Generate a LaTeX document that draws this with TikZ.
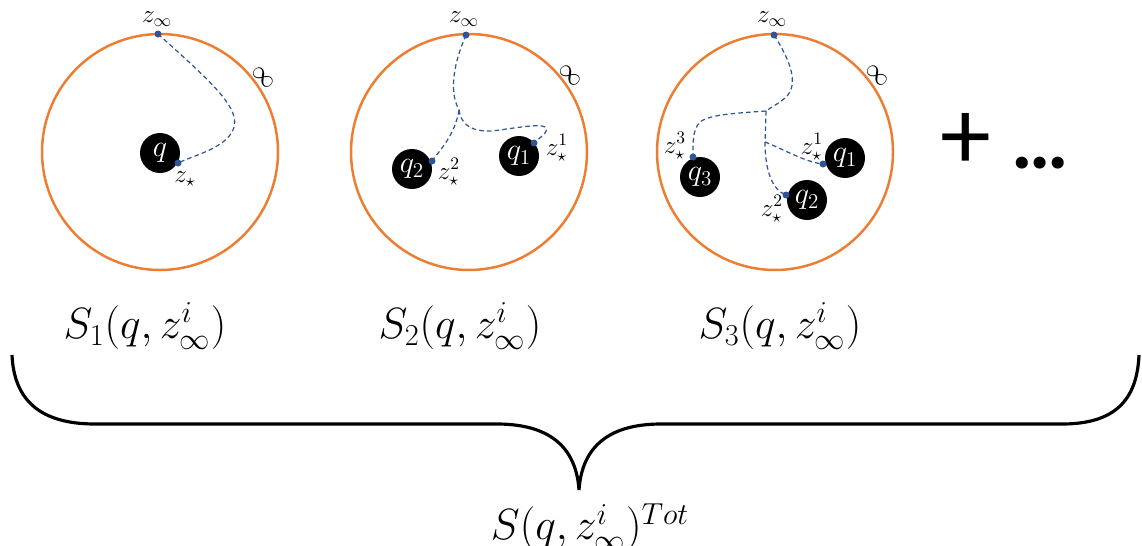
\documentclass[tikz,border=0pt]{standalone}
\usepackage{amsmath, amssymb}
\usepackage{fontspec}
\usepackage{xcolor}
\usepackage{tikz}
\usetikzlibrary{arrows.meta, positioning, calc}
\newfontfamily\plusfont{Carlito}
\definecolor{ringorange}{RGB}{237, 125, 49}
\definecolor{pathblue}{RGB}{47, 85, 151}

\begin{document}
\begin{tikzpicture}[x=0.02cm, y=-0.02cm,
    ring/.style={ringorange, line width=1.4pt},
    charge/.style={circle, fill=black, text=white, minimum size=0.8cm, inner sep=0pt, font=\fontsize{17}{17}\selectfont},
    dot/.style={circle, fill=pathblue, minimum size=0.14cm, inner sep=0pt},
    trail/.style={pathblue, line width=0.7pt, dash pattern=on 2.6pt off 1.8pt},
    lbl/.style={font=\fontsize{14}{14}\selectfont, inner sep=0pt},
    big/.style={font=\fontsize{26}{26}\selectfont}]
    \useasboundingbox (0,0) rectangle (1142,545);
    \clip (0,0) rectangle (1142,545);
    % rings
    \draw[ring] (160,152) circle[radius=2.36cm];
    \draw[ring] (469,152) circle[radius=2.36cm];
    \draw[ring] (775,152) circle[radius=2.36cm];
    \node[rotate=-45, font=\fontsize{14}{14}\selectfont] (infA) at (263,78) {$\infty$};
    \node[rotate=-45, font=\fontsize{14}{14}\selectfont] (infB) at (570,76) {$\infty$};
    \node[rotate=-45, font=\fontsize{14}{14}\selectfont] (infC) at (877,76) {$\infty$};
    % first picture
    \node[charge] (qA) at (160,153) {$q$};
    \node[dot] (zinfA) at (158,34) {};
    \node[dot] (zsA) at (178,163) {};
    \node[lbl] at (157,19) {$z_\infty$};
    \node[lbl] at (185,179) {$z_\star$};
    \draw[trail] (zinfA.center) .. controls (215,85) and (242,110) .. (233,130)
        .. controls (225,148) and (195,155) .. (zsA.center);
    % second picture
    \node[charge] (qBtwo) at (412,169) {$q_2$};
    \node[charge] (qBone) at (519,156) {$q_1$};
    \node[dot] (zinfB) at (466,35) {};
    \node[dot] (zsBtwo) at (432,161) {};
    \node[dot] (zsBone) at (534,143) {};
    \coordinate (jB) at (459,110);
    \node[lbl] at (464,19) {$z_\infty$};
    \node[lbl] at (449,172) {$z_\star^2$};
    \node[lbl] at (557,148) {$z_\star^1$};
    \draw[trail] (zinfB.center) .. controls (455,60) and (448,90) .. (jB);
    \draw[trail] (jB) .. controls (455,135) and (440,150) .. (zsBtwo.center);
    \draw[trail] (jB) .. controls (462,130) and (480,133) .. (500,130)
        .. controls (520,127) and (540,124) .. (545,127)
        .. controls (550,132) and (540,137) .. (zsBone.center);
    % third picture
    \node[charge] (qCthree) at (700,177) {$q_3$};
    \node[charge] (qCone) at (845,158) {$q_1$};
    \node[charge] (qCtwo) at (807,200) {$q_2$};
    \node[dot] (zinfC) at (774,35) {};
    \node[dot] (zsCthree) at (693,157) {};
    \node[dot] (zsCone) at (823,164) {};
    \node[dot] (zsCtwo) at (786,195) {};
    \coordinate (jCtop) at (766,111);
    \coordinate (jCmid) at (765,142);
    \node[lbl] at (772,19) {$z_\infty$};
    \node[lbl] at (675,146) {$z_\star^3$};
    \node[lbl] at (812,147) {$z_\star^1$};
    \node[lbl] at (772,209) {$z_\star^2$};
    \draw[trail] (zinfC.center) .. controls (790,60) and (800,85) .. (785,98)
        .. controls (778,104) and (770,108) .. (jCtop);
    \draw[trail] (jCtop) .. controls (740,113) and (710,114) .. (700,122)
        .. controls (692,130) and (693,145) .. (zsCthree.center);
    \draw[trail] (jCtop) -- (jCmid);
    \draw[trail] (jCmid) .. controls (785,150) and (805,162) .. (zsCone.center);
    \draw[trail] (jCmid) .. controls (765,170) and (772,190) .. (zsCtwo.center);
    % more terms
    \node[font=\fontsize{58}{58}\selectfont\plusfont] (plus) at (966,141) {+};
    \node[font=\fontsize{46}{46}\selectfont\plusfont\bfseries, anchor=base] (dots) at (1040,168) {…};
    % sector labels
    \node[big] (SA) at (145,326) {$S_1(q,z_\infty^i)$};
    \node[big] (SB) at (460,326) {$S_2(q,z_\infty^i)$};
    \node[big] (SC) at (780,326) {$S_3(q,z_\infty^i)$};
    % brace
    \draw[line width=1.8pt] (12,355) .. controls (14,400) and (40,424) .. (95,424)
        -- (497,424) .. controls (547,424) and (576,445) .. (579,490)
        .. controls (582,445) and (611,424) .. (661,424)
        -- (1062,424) .. controls (1115,424) and (1137,400) .. (1139,355);
    \node[big] (Stot) at (590,527) {$S(q,z_\infty^i)^{Tot}$};
\end{tikzpicture}
\end{document}
